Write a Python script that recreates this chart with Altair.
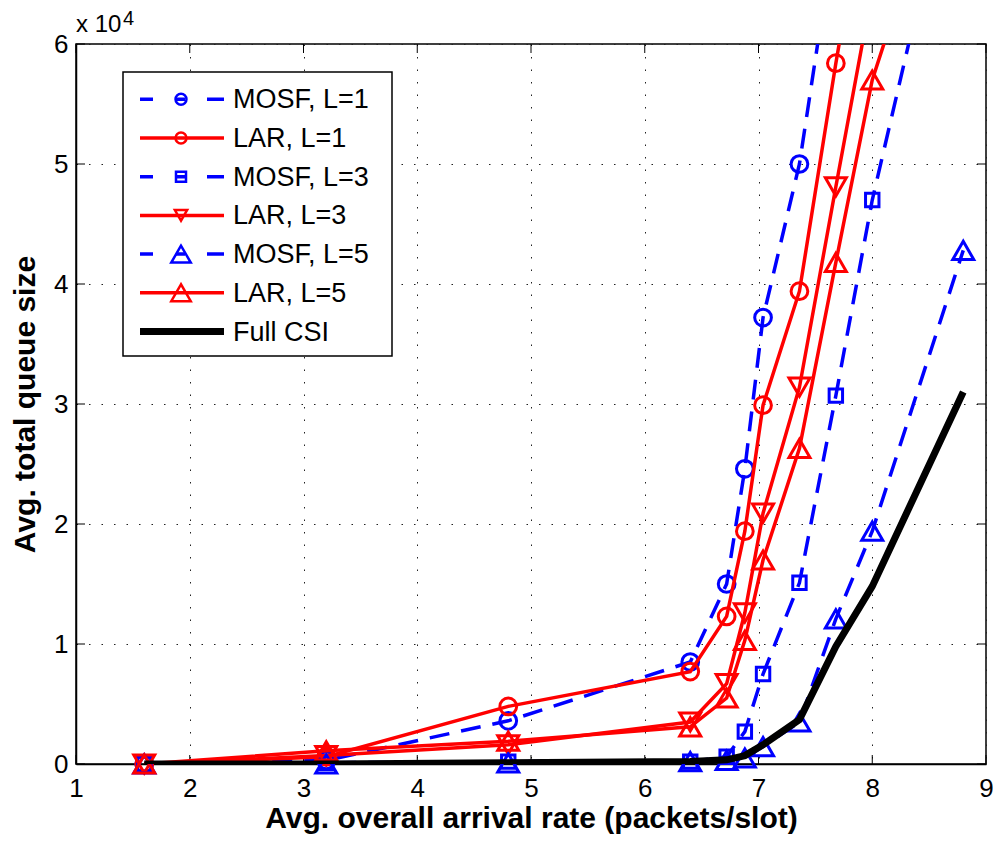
import altair as alt
import pandas as pd

# ---- data ----
X = [1.6, 3.2, 4.8, 6.4, 6.72, 6.88, 7.04, 7.36, 7.68, 8.0, 8.8]
MOSF_L1 = [0, 300, 3600, 8500, 15000, 24600, 37200, 50000, 70000]
LAR_L1 = [0, 600, 4800, 7700, 12300, 19400, 29900, 39400, 58400, 76000]
MOSF_L3 = [0, 100, 200, 200, 600, 2700, 7500, 15100, 30700, 47000, 79500]
LAR_L3 = [0, 700, 1600, 3500, 6700, 12600, 20900, 31400, 48100, 64500]
MOSF_L5 = [0, 0, 100, 200, 300, 500, 1450, 3500, 12100, 19400, 42800]
LAR_L5 = [0, 1100, 1900, 3100, 5500, 10300, 17000, 26300, 41800, 57000, 80400]
FULL_CSI = [0, 0, 100, 200, 350, 700, 1600, 3700, 9800, 14800, 31000]

LABELS = ["MOSF, L=1", "LAR, L=1", "MOSF, L=3", "LAR, L=3",
          "MOSF, L=5", "LAR, L=5", "Full CSI"]
X_TICKS = [1, 2, 3, 4, 5, 6, 7, 8, 9]
Y_TICKS = [0, 10000, 20000, 30000, 40000, 50000, 60000]
X_TITLE = "Avg. overall arrival rate (packets/slot)"
Y_TITLE = "Avg. total queue size"

FONT = "Liberation Sans"
BLUE, RED, BLACK = "#0000ff", "#ff0000", "#000000"
DASH = [20, 12]
LEG_DASH = [13, 23, 9, 22, 17, 200]

series = [
    # label, values, color, dash, shape, line width, plot size, legend size
    (LABELS[0], MOSF_L1, BLUE, DASH, "circle", 3.5, 280, 120),
    (LABELS[1], LAR_L1, RED, None, "circle", 3.5, 280, 120),
    (LABELS[2], MOSF_L3, BLUE, DASH, "square", 3.5, 180, 100),
    (LABELS[3], LAR_L3, RED, None, "triangle-down", 3.5, 440, 150),
    (LABELS[4], MOSF_L5, BLUE, DASH, "triangle-up", 3.5, 440, 380),
    (LABELS[5], LAR_L5, RED, None, "triangle-up", 3.5, 440, 380),
    (LABELS[6], FULL_CSI, BLACK, None, None, 7, 0, 0),
]

W, H = 910, 720
YMAX = 60000

xscale = alt.Scale(domain=[1, 9], nice=False, zero=False)
yscale = alt.Scale(domain=[0, YMAX], nice=False, zero=False)
grid_kw = dict(grid=True, gridDash=[1.5, 11], gridColor="#222222", gridWidth=1,
               gridOpacity=1, domainColor=BLACK, domainWidth=1.5, ticks=False,
               labelFont=FONT, labelFontSize=26, labelColor=BLACK,
               titleFont=FONT, titleFontSize=30, titleFontWeight="bold",
               titleColor=BLACK, labelFlush=False, labelOverlap=False)
xaxis = alt.Axis(values=X_TICKS, format="d", title=X_TITLE, labelPadding=11,
                 titlePadding=2, **grid_kw)
yaxis = alt.Axis(values=Y_TICKS, labelExpr="datum.value / 10000", title=Y_TITLE,
                 labelPadding=8, titlePadding=13, **grid_kw)


def X_enc(field="x"):
    return alt.X(f"{field}:Q", scale=xscale, axis=xaxis)


def Y_enc(field="y"):
    return alt.Y(f"{field}:Q", scale=yscale, axis=yaxis)


layers = []

# inward ticks (MATLAB style)
xt = pd.DataFrame({"v": X_TICKS})
yt = pd.DataFrame({"v": Y_TICKS})
layers.append(alt.Chart(xt).mark_rule(color=BLACK, strokeWidth=1).encode(
    x=X_enc("v"), y=alt.value(H), y2=alt.value(H - 9)))
layers.append(alt.Chart(xt).mark_rule(color=BLACK, strokeWidth=1).encode(
    x=X_enc("v"), y=alt.value(0), y2=alt.value(9)))
layers.append(alt.Chart(yt).mark_rule(color=BLACK, strokeWidth=1).encode(
    y=Y_enc("v"), x=alt.value(0), x2=alt.value(9)))
layers.append(alt.Chart(yt).mark_rule(color=BLACK, strokeWidth=1).encode(
    y=Y_enc("v"), x=alt.value(W), x2=alt.value(W - 9)))

# data series
for lab, vals, col, dash, shape, lw, psize, _ in series:
    df = pd.DataFrame({"x": X[:len(vals)], "y": vals})
    line_kw = dict(color=col, strokeWidth=lw, clip=True)
    if dash:
        line_kw["strokeDash"] = dash
    layers.append(alt.Chart(df).mark_line(**line_kw).encode(x=X_enc(), y=Y_enc()))
    if shape:
        pdf = df[df["y"] <= YMAX]
        layers.append(alt.Chart(pdf).mark_point(
            shape=shape, filled=False, color=col, size=psize, strokeWidth=3,
            opacity=1).encode(x=X_enc(), y=Y_enc()))

# legend (drawn manually to mimic MATLAB style)
one = pd.DataFrame({"k": [0]})
layers.append(alt.Chart(one).mark_rect(fill="white", stroke=BLACK, strokeWidth=1.5).encode(
    x=alt.value(47), x2=alt.value(316), y=alt.value(28), y2=alt.value(312)))
for i, (lab, vals, col, dash, shape, lw, _, lsize) in enumerate(series):
    py = 55.3 + 38.7 * i
    ldf = pd.DataFrame({"label": [lab]})
    rule_kw = dict(color=col, strokeWidth=lw)
    if dash:
        rule_kw["strokeDash"] = LEG_DASH
    layers.append(alt.Chart(ldf).mark_rule(**rule_kw).encode(
        x=alt.value(64), x2=alt.value(148), y=alt.value(py)))
    if shape:
        layers.append(alt.Chart(ldf).mark_point(
            shape=shape, filled=False, color=col, size=lsize, strokeWidth=2.5,
            opacity=1).encode(x=alt.value(105), y=alt.value(py)))
    layers.append(alt.Chart(ldf).mark_text(
        align="left", baseline="middle", font=FONT, fontSize=27, color=BLACK).encode(
        x=alt.value(157), y=alt.value(py + 1), text="label:N"))

# exponent annotation "x 10^4"
layers.append(alt.Chart(pd.DataFrame({"t": ["x 10"]})).mark_text(
    align="left", baseline="alphabetic", font=FONT, fontSize=24, color=BLACK).encode(
    x=alt.value(0), y=alt.value(-12), text="t:N"))
layers.append(alt.Chart(pd.DataFrame({"t": ["4"]})).mark_text(
    align="left", baseline="alphabetic", font=FONT, fontSize=20, color=BLACK).encode(
    x=alt.value(47), y=alt.value(-19), text="t:N"))

chart = alt.layer(*layers).properties(
    width=W, height=H,
    padding={"left": 68, "top": 36, "right": 7, "bottom": 73},
    autosize=alt.AutoSizeParams(type="none"),
    background="white",
).configure_view(stroke=BLACK, strokeWidth=1.5)

chart.save("out.html", embed_options={"renderer": "svg", "actions": False})
